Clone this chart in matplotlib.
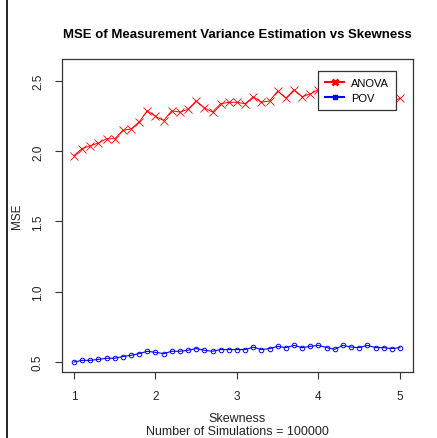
import matplotlib
matplotlib.use("Agg")
import matplotlib.pyplot as plt
from matplotlib.lines import Line2D

plt.rcParams['font.family'] = ['Liberation Sans', 'DejaVu Sans']

# skewness values (x axis)
skewness = [1.0, 1.1, 1.2, 1.3, 1.4, 1.5, 1.6, 1.7, 1.8, 1.9,
            2.0, 2.1, 2.2, 2.3, 2.4, 2.5, 2.6, 2.7, 2.8, 2.9,
            3.0, 3.1, 3.2, 3.3, 3.4, 3.5, 3.6, 3.7, 3.8, 3.9,
            4.0, 4.1, 4.2, 4.3, 4.4, 4.5, 4.6, 4.7, 4.8, 4.9, 5.0]

# MSE of the ANOVA estimator
mse_anova = [1.97, 2.02, 2.04, 2.06, 2.09, 2.09, 2.15, 2.16, 2.21, 2.29,
             2.25, 2.22, 2.29, 2.28, 2.30, 2.36, 2.31, 2.28, 2.34, 2.35,
             2.35, 2.34, 2.39, 2.35, 2.36, 2.43, 2.38, 2.44, 2.39, 2.41,
             2.44, 2.41, 2.44, 2.42, 2.40, 2.45, 2.41, 2.43, 2.39, 2.35, 2.38]

# MSE of the POV estimator
mse_pov = [0.497, 0.509, 0.509, 0.516, 0.524, 0.524, 0.536, 0.545, 0.557, 0.574,
           0.566, 0.557, 0.574, 0.574, 0.581, 0.593, 0.581, 0.574, 0.586, 0.586,
           0.586, 0.586, 0.603, 0.586, 0.593, 0.609, 0.600, 0.616, 0.600, 0.609,
           0.616, 0.600, 0.588, 0.616, 0.604, 0.600, 0.616, 0.600, 0.600, 0.593, 0.600]

x_ticks = [1, 2, 3, 4, 5]
y_ticks = [0.5, 1.0, 1.5, 2.0, 2.5]
y_tick_labels = ['0.5', '1.0', '1.5', '2.0', '2.5']

W, H = 437, 439
fig = plt.figure(figsize=(W / 100, H / 100), dpi=100)
ax = fig.add_axes([62 / W, 1 - 373 / H, 351 / W, 313 / H])

ax.plot(skewness, mse_anova, color='red', lw=0.7, marker='x', ms=5.2, mew=0.6)
ax.plot(skewness, mse_pov, color='blue', lw=0.8, marker='o', ms=3.3, mew=0.7,
        mfc='none')

ax.set_xlim(0.853, 5.16)
ax.set_ylim(0.426, 2.659)
ax.set_xticks(x_ticks)
ax.set_xticklabels([str(v) for v in x_ticks])
ax.set_yticks(y_ticks)
ax.set_yticklabels(y_tick_labels, rotation=90, va='center')
ax.tick_params(direction='out', length=5, width=0.8, color='#333333',
               labelsize=8.5, labelcolor='#222222', pad=8)
for s in ax.spines.values():
    s.set_color('#333333')
    s.set_linewidth(0.9)

handles = [Line2D([], [], color='red', lw=1.5, marker='x', ms=5, mew=2),
           Line2D([], [], color='blue', lw=1.5, marker='s', ms=3)]
leg = ax.legend(handles, ['ANOVA', 'POV'], loc='upper left',
                bbox_to_anchor=(0.729, 0.962), fontsize=8, frameon=True,
                fancybox=False, edgecolor='#333333', framealpha=1,
                borderpad=0.65, labelspacing=0.4, handlelength=1.7,
                handletextpad=0.6, borderaxespad=0)
leg.get_frame().set_linewidth(0.9)

fig.text(237 / W, 1 - 35 / H, 'MSE of Measurement Variance Estimation vs Skewness',
         ha='center', va='center', fontsize=9.5, fontweight='bold')
fig.text(237 / W, 1 - 419 / H, 'Skewness', ha='center', va='center',
         fontsize=9, color='#222222')
fig.text(237 / W, 1 - 432 / H, 'Number of Simulations = 100000', ha='center',
         va='center', fontsize=9, color='#222222')
fig.text(17 / W, 1 - 216 / H, 'MSE', ha='center', va='center', rotation=90,
         fontsize=8.5, color='#222222')

# dark frame line along the left edge of the picture
fig.add_artist(Line2D([7 / W, 7 / W], [0, 1], color='black', lw=1.2))

fig.savefig('out.png', dpi=100)
